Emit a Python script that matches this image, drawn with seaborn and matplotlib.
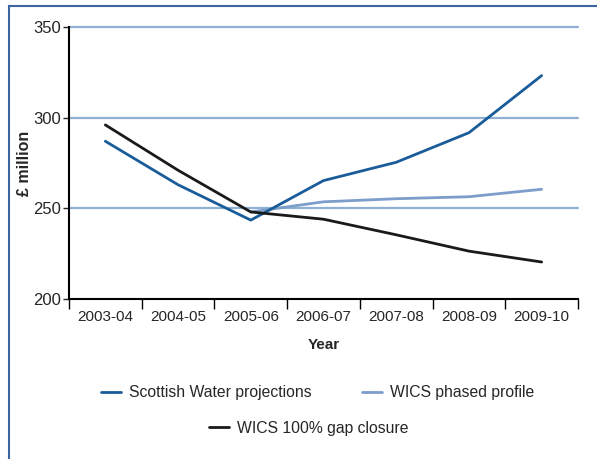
import matplotlib
matplotlib.use('Agg')
import pandas as pd
import numpy as np
import matplotlib.pyplot as plt
import seaborn as sns
from matplotlib.lines import Line2D
from matplotlib.patches import Rectangle

sns.set_style('white')
plt.rcParams['font.family'] = ['Liberation Sans', 'DejaVu Sans']

# 数据
years = ['2003-04', '2004-05', '2005-06', '2006-07', '2007-08', '2008-09', '2009-10']
scottish_water = [287, 263, 243.5, 265.3, 275.4, 291.7, 323.2]
wics_phased = [np.nan, np.nan, 248, 253.6, 255.3, 256.4, 260.5]
wics_gap = [296, 271, 248, 244, 235.4, 226.4, 220.4]

names = ['Scottish Water projections', 'WICS phased profile', 'WICS 100% gap closure']
colors = ['#1a5c9a', '#7d9dcb', '#1a1a1a']

df = pd.DataFrame({
    'Year': years * 3,
    'value': scottish_water + wics_phased + wics_gap,
    'series': [names[0]] * 7 + [names[1]] * 7 + [names[2]] * 7,
})

fig = plt.figure(figsize=(5.97, 4.59), dpi=100)
ax = fig.add_axes([69 / 597, 1 - 299 / 459, (578 - 69) / 597, (299 - 27) / 459])

# 网格线
for v in [250, 300, 350]:
    ax.axhline(v, color='#8fb0d3', lw=1.6, zorder=0, clip_on=False)

sns.lineplot(data=df, x='Year', y='value', hue='series', hue_order=[names[1], names[0], names[2]],
             palette={n: c for n, c in zip(names, colors)}, linewidth=2, ax=ax, legend=False, sort=False)

ax.set_xlim(-0.5, 6.5)
ax.set_ylim(200, 350)
ax.set_yticks([200, 250, 300, 350])
ax.set_xticks(np.arange(-0.5, 7, 1))
ax.set_xticklabels([])
ax.set_xticks(range(7), minor=True)
ax.set_xticklabels(years, minor=True, fontsize=11)
ax.tick_params(axis='x', which='major', direction='out', length=7, width=1, color='black', bottom=True)
ax.tick_params(axis='x', which='minor', length=0, pad=8)
ax.tick_params(axis='y', direction='out', length=4, width=1, labelsize=12, left=True, pad=2)
for s in ['top', 'right']:
    ax.spines[s].set_visible(False)
for s in ['left', 'bottom']:
    ax.spines[s].set_color('black')
    ax.spines[s].set_linewidth(1.5)

ax.set_xlabel('Year', fontsize=11, fontweight='bold', labelpad=10)
ax.set_ylabel('£ million', fontsize=11.5, fontweight='bold')
ax.yaxis.set_label_coords(-37 / 509, 0.5)

# 图例
h = [Line2D([], [], color=c, lw=2) for c in colors]
fig.legend(h[:2], names[:2], loc='center', bbox_to_anchor=(0.532, 1 - 393 / 459), ncol=2,
           frameon=False, fontsize=11.3, handlelength=1.3, handletextpad=0.5, columnspacing=3.2)
fig.legend(h[2:], names[2:], loc='center', bbox_to_anchor=(0.517, 1 - 428 / 459),
           frameon=False, fontsize=11.3, handlelength=1.3, handletextpad=0.5)

# 外框
fig.patches.append(Rectangle((9 / 597, -0.05), 1.1, 1 - 6 / 459 + 0.05, transform=fig.transFigure,
                             fill=False, edgecolor='#3b64a0', lw=1.5))

fig.savefig('out.png', dpi=100)
